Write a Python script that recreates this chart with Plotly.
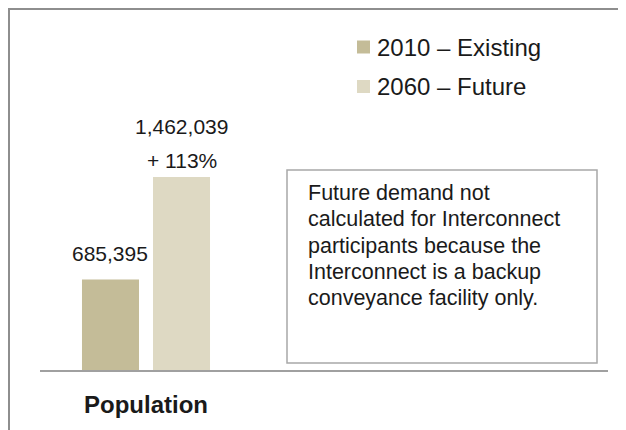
"""
Population 2010 vs 2060 - grouped bar with note box.
"""
import plotly.graph_objects as go

# data
categories = ['Population']
series_names = ['2010 – Existing', '2060 – Future']
values_2010 = [685395]
values_2060 = [1462039]
growth_labels = ['+ 113%']
note_lines = [
    'Future demand not',
    'calculated for Interconnect',
    'participants because the',
    'Interconnect is a backup',
    'conveyance facility only.',
]

COLOR_2010 = '#C4BC98'
COLOR_2060 = '#DED9C3'
TEXT_COLOR = '#1A1A1A'
FONT_FAMILY = 'Liberation Sans, Arial, sans-serif'

# page offset (default body margin of the html page)
OFF = 8
W, H = 626, 430
L, R, T, B = 40 - OFF, 26, 20 - OFF, 68
PW, PH = W - L - R, H - T - B


def px_x(x):
    # page pixel x -> paper coord
    return (x - OFF - L) / PW


def px_y(y):
    # page pixel y -> paper coord
    return (H - B - (y - OFF)) / PH


fig = go.Figure()

fig.add_trace(go.Bar(
    x=categories, y=values_2010, name=series_names[0],
    marker=dict(color=COLOR_2010, line=dict(width=0)),
    hoverinfo='skip'
))
fig.add_trace(go.Bar(
    x=categories, y=values_2060, name=series_names[1],
    marker=dict(color=COLOR_2060, line=dict(width=0)),
    hoverinfo='skip'
))

# value labels above bars (category index with offset of each bar)
offset = 0.1675
annotations = [
    dict(x=-offset, y=values_2010[0], xref='x', yref='y',
         text=f'{values_2010[0]:,}', showarrow=False,
         yanchor='middle', yshift=26,
         font=dict(size=21, color=TEXT_COLOR)),
    dict(x=offset, y=values_2060[0], xref='x', yref='y',
         text=f'{values_2060[0]:,}', showarrow=False,
         yanchor='middle', yshift=50,
         font=dict(size=21, color=TEXT_COLOR)),
    dict(x=offset, y=values_2060[0], xref='x', yref='y',
         text=growth_labels[0], showarrow=False,
         yanchor='middle', yshift=16,
         font=dict(size=21, color=TEXT_COLOR)),
]

# note box text, one annotation per line
for i, line in enumerate(note_lines):
    annotations.append(dict(
        x=px_x(306), y=px_y(193 + i * 26.3), xref='paper', yref='paper',
        text=line, showarrow=False, xanchor='left', yanchor='middle',
        font=dict(size=21.5, color=TEXT_COLOR)
    ))

shapes = [
    # outer frame (cut off at right/bottom)
    dict(type='rect', xref='paper', yref='paper',
         x0=px_x(9), x1=px_x(650), y0=px_y(450), y1=px_y(9),
         line=dict(color='#8E8E8E', width=2), layer='below'),
    # note box
    dict(type='rect', xref='paper', yref='paper',
         x0=px_x(287), x1=px_x(597), y0=px_y(363), y1=px_y(170),
         line=dict(color='#A8A8A8', width=1.5)),
]

# legend drawn by hand: small square + label, as in the original slide
legend_colors = [COLOR_2010, COLOR_2060]
legend_rows = [47, 86.5]
for name, color, yc in zip(series_names, legend_colors, legend_rows):
    shapes.append(dict(
        type='rect', xref='paper', yref='paper',
        x0=px_x(357), x1=px_x(370), y0=px_y(yc + 6.5), y1=px_y(yc - 6.5),
        fillcolor=color, line=dict(width=0)
    ))
    annotations.append(dict(
        x=px_x(375), y=px_y(yc), xref='paper', yref='paper',
        text=name, showarrow=False, xanchor='left', yanchor='middle',
        font=dict(size=24, color=TEXT_COLOR)
    ))

fig.update_layout(
    width=W, height=H,
    margin=dict(l=L, r=R, t=T, b=B, pad=0),
    paper_bgcolor='white',
    plot_bgcolor='white',
    font=dict(family=FONT_FAMILY, color=TEXT_COLOR),
    barmode='group',
    bargap=0.33,
    bargroupgap=0.197,
    showlegend=False,
    annotations=annotations,
    shapes=shapes,
)

fig.update_xaxes(
    range=[-0.5, PW / 212 - 0.5],
    showline=True, linecolor='#A0A0A0', linewidth=2,
    showgrid=False, zeroline=False,
    ticks='', ticklabelstandoff=12,
    tickfont=dict(size=24, color=TEXT_COLOR, family='Liberation Sans, Arial', weight='bold'),
)
fig.update_yaxes(
    range=[0, PH * 7575],
    visible=False, showgrid=False, zeroline=False,
)

fig.write_html('out.html')
